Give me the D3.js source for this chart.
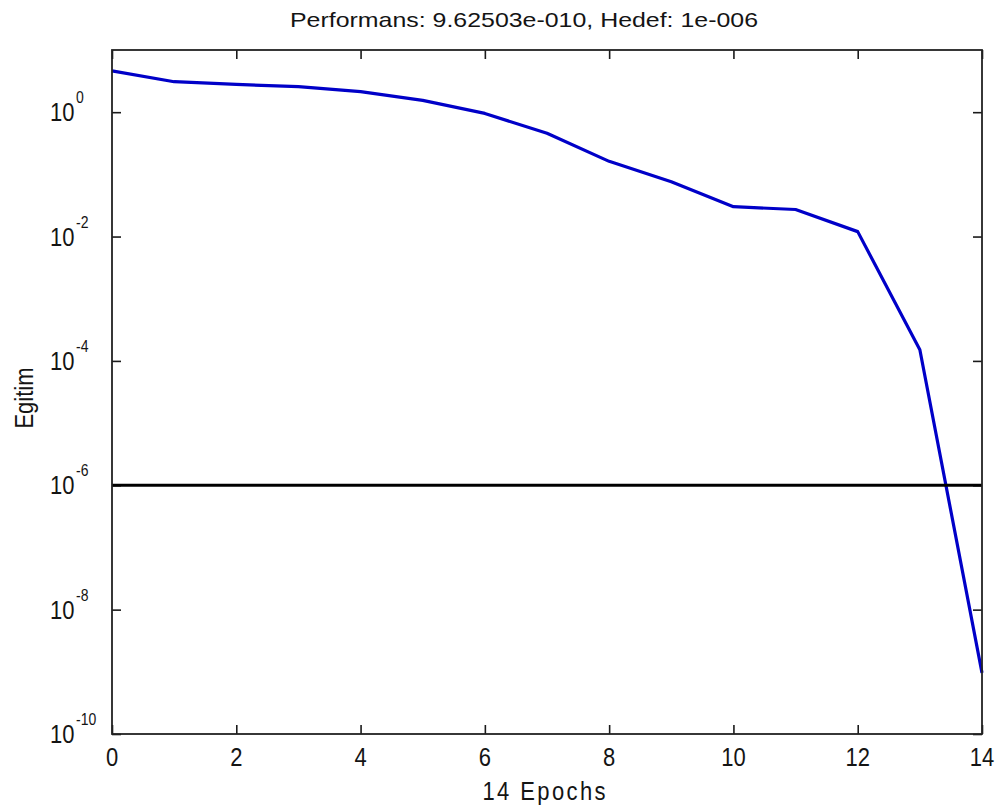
<!DOCTYPE html>
<html>
<head>
<meta charset="utf-8">
<script src="https://cdn.jsdelivr.net/npm/d3@7"></script>
<style>
  body { margin: 0; background: #fff; }
  text { font-family: "Liberation Sans", Arial, sans-serif; fill: #141414; }
</style>
</head>
<body>
<svg id="chart" width="1001" height="812"></svg>
<script>
// Training performance per epoch (log scale) and the goal line
const epochs = [0, 1, 2, 3, 4, 5, 6, 7, 8, 9, 10, 11, 12, 13, 14];
const performance = [4.61, 3.09, 2.79, 2.57, 2.14, 1.55, 0.955, 0.457, 0.162, 0.0759, 0.0302, 0.0272, 0.0120, 1.51e-4, 9.62503e-10];
const goal = 1e-6;
const xTicks = [0, 2, 4, 6, 8, 10, 12, 14];
const yTicks = [1e0, 1e-2, 1e-4, 1e-6, 1e-8, 1e-10];
const yTickExponents = ["0", "-2", "-4", "-6", "-8", "-10"];
const titleText = "Performans: 9.62503e-010, Hedef: 1e-006";
const xLabelText = "14 Epochs";
const yLabelText = "Egitim";

const svg = d3.select("#chart");
const plotLeft = 112, plotRight = 982, plotTop = 50, plotBottom = 734;
const stretch = 1.18;

svg.append("rect").attr("width", 1001).attr("height", 812).attr("fill", "#ffffff");

const x = d3.scaleLinear().domain([0, 14]).range([plotLeft, plotRight]);
const y = d3.scaleLog().domain([1e-10, 1e1]).range([plotBottom, plotTop]);

// Inward tick marks on all four sides
const tick = 9;
svg.append("g").attr("transform", `translate(0,${plotBottom})`)
  .call(d3.axisBottom(x).tickValues(xTicks).tickSize(-tick).tickFormat(""));
svg.append("g").attr("transform", `translate(0,${plotTop})`)
  .call(d3.axisTop(x).tickValues(xTicks).tickSize(-tick).tickFormat(""));
svg.append("g").attr("transform", `translate(${plotLeft},0)`)
  .call(d3.axisLeft(y).tickValues(yTicks).tickSize(-tick).tickFormat(""));
svg.append("g").attr("transform", `translate(${plotRight},0)`)
  .call(d3.axisRight(y).tickValues(yTicks).tickSize(-tick).tickFormat(""));
svg.selectAll(".domain").remove();
svg.selectAll(".tick line").attr("stroke", "#1a1a1a").attr("stroke-width", 1.6);

// Performance curve
const line = d3.line().x((d, i) => x(epochs[i])).y(d => y(d));
svg.append("path").datum(performance)
  .attr("d", line)
  .attr("fill", "none")
  .attr("stroke", "#0000c8")
  .attr("stroke-width", 3.2)
  .attr("stroke-linejoin", "round");

// Goal line
svg.append("line")
  .attr("x1", x(0)).attr("x2", x(14))
  .attr("y1", y(goal)).attr("y2", y(goal))
  .attr("stroke", "#000").attr("stroke-width", 3);

// Axes box
svg.append("rect")
  .attr("x", plotLeft).attr("y", plotTop)
  .attr("width", plotRight - plotLeft).attr("height", plotBottom - plotTop)
  .attr("fill", "none").attr("stroke", "#222").attr("stroke-width", 1.8);

// X tick labels
svg.append("g").selectAll("g").data(xTicks).join("g")
  .attr("transform", d => `translate(${x(d)},766) scale(1,${stretch})`)
  .append("text")
  .attr("text-anchor", "middle")
  .attr("font-size", 22)
  .text(d => d);

// Y tick labels: 10 with a raised exponent
const yl = svg.append("g").selectAll("g").data(yTicks).join("g");
yl.append("g")
  .attr("transform", d => `translate(50,${y(d) + 9}) scale(1,${stretch})`)
  .append("text").attr("font-size", 22).text("10");
yl.append("g")
  .attr("transform", d => `translate(76,${y(d) - 9}) scale(1,${stretch})`)
  .append("text").attr("font-size", 14).text((d, i) => yTickExponents[i]);

// Title
svg.append("g").attr("transform", `translate(524,27)`)
  .append("text")
  .attr("text-anchor", "middle")
  .attr("font-size", 21)
  .attr("textLength", 468)
  .attr("lengthAdjust", "spacingAndGlyphs")
  .text(titleText);

// X axis label
svg.append("g").attr("transform", `translate(544,800) scale(1,${stretch})`)
  .append("text")
  .attr("text-anchor", "middle")
  .attr("font-size", 22)
  .attr("textLength", 123)
  .attr("lengthAdjust", "spacing")
  .text(xLabelText);

// Y axis label
svg.append("g").attr("transform", `translate(33,398) rotate(-90) scale(1,1.2)`)
  .append("text")
  .attr("text-anchor", "middle")
  .attr("font-size", 22)
  .text(yLabelText);
</script>
</body>
</html>
